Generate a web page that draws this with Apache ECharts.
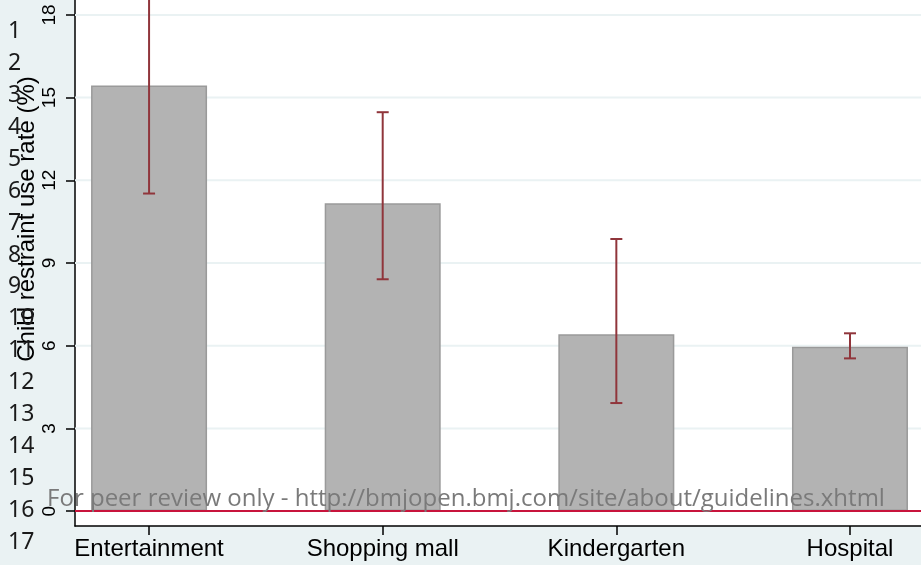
<!DOCTYPE html>
<html>
<head>
<meta charset="utf-8">
<script src="https://cdn.jsdelivr.net/npm/echarts@6/dist/echarts.min.js"></script>
<style>
  html, body { margin: 0; padding: 0; background: #eaf2f3; }
  #main { width: 921px; height: 565px; }
</style>
</head>
<body>
<div id="main"></div>
<script>
// child restraint use by place (bar + 95% CI)
const categories = ['Entertainment', 'Shopping mall', 'Kindergarten', 'Hospital'];
const catPos = [1, 2, 3, 4];
const rates = [15.44, 11.17, 6.42, 5.96];
const ciLow = [11.52, 8.41, 3.92, 5.54];
const ciHigh = [19.36, 14.47, 9.87, 6.45];
const yTicks = [0, 3, 6, 9, 12, 15, 18];
const lineNumbers = ['1', '2', '3', '4', '5', '6', '7', '8', '9', '10', '11', '12', '13', '14', '15', '16', '17'];
const yTitle = 'Child restraint use rate (%)';
const watermark = 'For peer review only - http://bmjopen.bmj.com/site/about/guidelines.xhtml';

const chart = echarts.init(document.getElementById('main'));

const barData = catPos.map((x, i) => [x, rates[i]]);
const ciData = catPos.map((x, i) => [x, ciLow[i], ciHigh[i]]);

// left margin numbers of the review pdf
const numberTexts = lineNumbers.map((n, i) => ({
  type: 'text',
  x: 8,
  y: 31.7 + i * 31.9,
  z: 100,
  style: {
    text: n,
    fontSize: 23,
    fontFamily: 'Noto Sans',
    fill: '#1a1a1a',
    textVerticalAlign: 'middle'
  }
}));

const option = {
  backgroundColor: '#eaf2f3',
  animation: false,
  grid: {
    left: 75, right: 0, top: 0, bottom: 39,
    show: true, backgroundColor: '#ffffff', borderWidth: 0
  },
  xAxis: {
    type: 'value',
    min: 0.683,
    max: 4.304,
    axisLine: { show: true, onZero: false, lineStyle: { color: '#000', width: 1.5 } },
    axisTick: { show: true, length: 9, customValues: catPos, lineStyle: { color: '#000', width: 1.5 } },
    axisLabel: {
      customValues: catPos,
      margin: 11,
      color: '#000',
      fontFamily: 'Liberation Sans',
      fontSize: 24,
      formatter: v => categories[Math.round(v) - 1] || ''
    },
    splitLine: { show: false }
  },
  yAxis: {
    type: 'value',
    min: -0.54,
    max: 18.54,
    axisLine: { show: true, lineStyle: { color: '#000', width: 1.5 } },
    axisTick: { show: true, length: 9, customValues: yTicks, lineStyle: { color: '#000', width: 1.5 } },
    axisLabel: {
      customValues: yTicks,
      rotate: 90,
      margin: 16,
      color: '#000',
      fontFamily: 'Liberation Sans',
      fontSize: 19
    },
    splitLine: { show: false }
  },
  graphic: [
    {
      type: 'text',
      x: 27, y: 219,
      rotation: Math.PI / 2,
      z: 90,
      style: {
        text: yTitle,
        fontSize: 24,
        fontFamily: 'Liberation Sans',
        fill: '#000',
        textAlign: 'center',
        textVerticalAlign: 'middle'
      }
    },
    {
      type: 'text',
      x: 466, y: 499,
      z: 100,
      style: {
        text: watermark,
        fontSize: 24,
        fontFamily: 'Open Sans',
        fill: '#7a7a7a',
        textAlign: 'center',
        textVerticalAlign: 'middle'
      }
    }
  ].concat(numberTexts),
  series: [
    {
      // grid lines behind the bars
      type: 'custom',
      z: 1,
      silent: true,
      data: yTicks.filter(v => v > 0).map(v => [1, v]),
      renderItem: function (params, api) {
        const p = api.coord([api.value(0), api.value(1)]);
        return {
          type: 'line',
          shape: { x1: params.coordSys.x, y1: p[1], x2: params.coordSys.x + params.coordSys.width, y2: p[1] },
          style: { stroke: '#eaf2f3', lineWidth: 2 }
        };
      }
    },
    {
      type: 'bar',
      z: 2,
      barWidth: 116,
      data: barData,
      itemStyle: { color: '#b3b3b3', borderColor: '#9a9a9a', borderWidth: 1.5 },
      markLine: {
        silent: true,
        symbol: 'none',
        label: { show: false },
        lineStyle: { color: '#c8143c', width: 2, type: 'solid' },
        data: [{ yAxis: 0 }]
      }
    },
    {
      type: 'custom',
      z: 3,
      data: ciData,
      renderItem: function (params, api) {
        const x = api.value(0);
        const lo = api.coord([x, api.value(1)]);
        const hi = api.coord([x, api.value(2)]);
        const cap = 6;
        const st = { stroke: '#90353b', lineWidth: 2 };
        return {
          type: 'group',
          children: [
            { type: 'line', shape: { x1: lo[0], y1: lo[1], x2: hi[0], y2: hi[1] }, style: st },
            { type: 'line', shape: { x1: lo[0] - cap, y1: lo[1], x2: lo[0] + cap, y2: lo[1] }, style: st },
            { type: 'line', shape: { x1: hi[0] - cap, y1: hi[1], x2: hi[0] + cap, y2: hi[1] }, style: st }
          ]
        };
      }
    }
  ]
};

chart.setOption(option);
</script>
</body>
</html>
